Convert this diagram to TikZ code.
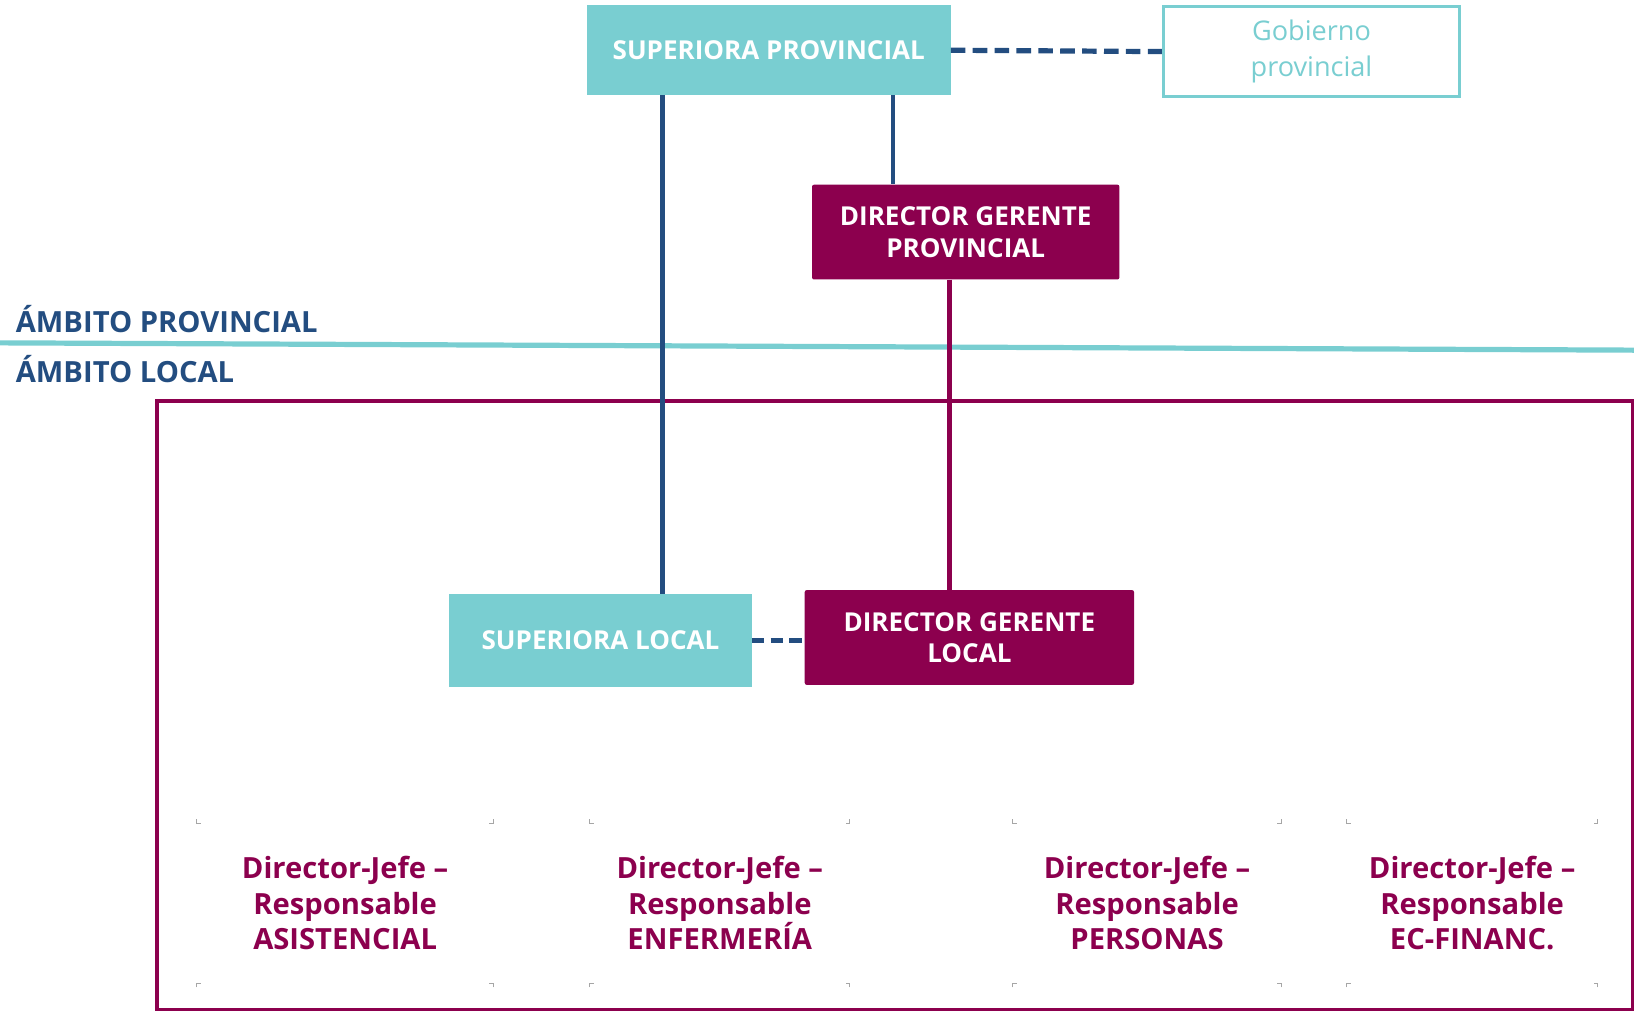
\documentclass[tikz,border=0pt]{standalone}
\usepackage{fontspec}
\setmainfont{Open Sans}
\definecolor{teal1}{HTML}{79CED1}
\definecolor{navy1}{HTML}{234D80}
\definecolor{mag1}{HTML}{8C004E}
\begin{document}
\begin{tikzpicture}[x=1pt,y=-1pt,
  tealbox/.style={fill=teal1,text=white,font=\bfseries\fontsize{25}{30}\selectfont,align=center,inner sep=0pt},
  magbox/.style={fill=mag1,text=white,font=\bfseries\fontsize{25}{30}\selectfont,align=center,inner sep=0pt,rounded corners=2pt},
  jefe/.style={text=mag1,font=\bfseries\fontsize{28}{34}\selectfont,align=center,inner sep=0pt},
  bluel/.style={draw=navy1,line width=4.5pt},
  magl/.style={draw=mag1,line width=4.5pt},
  dashl/.style={draw=navy1,line width=5pt,dash pattern=on 14pt off 7pt},
  ambito/.style={text=navy1,font=\bfseries\fontsize{28}{30}\selectfont,anchor=base west,inner sep=0pt},
  corner/.style={draw=gray!70,line width=1pt}
]
\useasboundingbox (0,0) rectangle (1568,970);
% frame
\node[draw=mag1,line width=4pt,minimum width=1416pt,minimum height=584pt,anchor=north west,inner sep=0pt] (frame) at (149,383) {};
% dividing line
\coordinate (dl) at (0,329);
\coordinate (dr) at (1568,336);
\draw[teal1,line width=5pt] (dl) -- (dr);
\node[ambito] (ap) at (15,319) {ÁMBITO PROVINCIAL};
\node[ambito] (al) at (15,367) {ÁMBITO LOCAL};
% top nodes
\node[tealbox,minimum width=349pt,minimum height=86pt,anchor=north west] (sp) at (563,5) {SUPERIORA PROVINCIAL};
\node[draw=teal1,line width=3pt,fill=white,text=teal1,font=\fontsize{26}{34}\selectfont,align=center,minimum width=284pt,minimum height=86pt,anchor=north west,inner sep=0pt] (gp) at (1115,5) {Gobierno\\provincial};
\node[magbox,minimum width=295pt,minimum height=91pt,anchor=north west] (dgp) at (779,177) {DIRECTOR GERENTE\\PROVINCIAL};
\node[tealbox,minimum width=290pt,minimum height=89pt,anchor=north west] (sl) at (431,570) {SUPERIORA LOCAL};
\node[magbox,minimum width=316pt,minimum height=91pt,anchor=north west] (dgl) at (772,566) {DIRECTOR GERENTE\\LOCAL};
% connectors
\draw[dashl] (sp.east) -- (gp.west);
\draw[bluel] ([xshift=294pt]sp.south west) -- ([xshift=78pt]dgp.north west);
\draw[bluel] ([xshift=73pt]sp.south west) -- ([xshift=205pt]sl.north west);
\draw[magl] ([xshift=132pt]dgp.south west) -- ([xshift=139pt]dgl.north west);
\draw[dashl,dash pattern=on 12pt off 6pt] (sl.east) -- (sl.east -| dgl.west);
% jefe boxes
\node[jefe,minimum width=284pt,minimum height=153pt,anchor=north west] (j1) at (189,790) {Director-Jefe –\\Responsable\\ASISTENCIAL};
\node[jefe,minimum width=249pt,minimum height=153pt,anchor=north west] (j2) at (566,790) {Director-Jefe –\\Responsable\\ENFERMERÍA};
\node[jefe,minimum width=257pt,minimum height=153pt,anchor=north west] (j3) at (972,790) {Director-Jefe –\\Responsable\\PERSONAS};
\node[jefe,minimum width=241pt,minimum height=153pt,anchor=north west] (j4) at (1292,790) {Director-Jefe –\\Responsable\\EC-FINANC.};
\foreach \n in {j1,j2,j3,j4}{
  \draw[corner] ([yshift=4pt]\n.north west) -- (\n.north west) -- ([xshift=4pt]\n.north west);
  \draw[corner] ([yshift=4pt]\n.north east) -- (\n.north east) -- ([xshift=-4pt]\n.north east);
  \draw[corner] ([yshift=-4pt]\n.south west) -- (\n.south west) -- ([xshift=4pt]\n.south west);
  \draw[corner] ([yshift=-4pt]\n.south east) -- (\n.south east) -- ([xshift=-4pt]\n.south east);
}
\end{tikzpicture}
\end{document}
